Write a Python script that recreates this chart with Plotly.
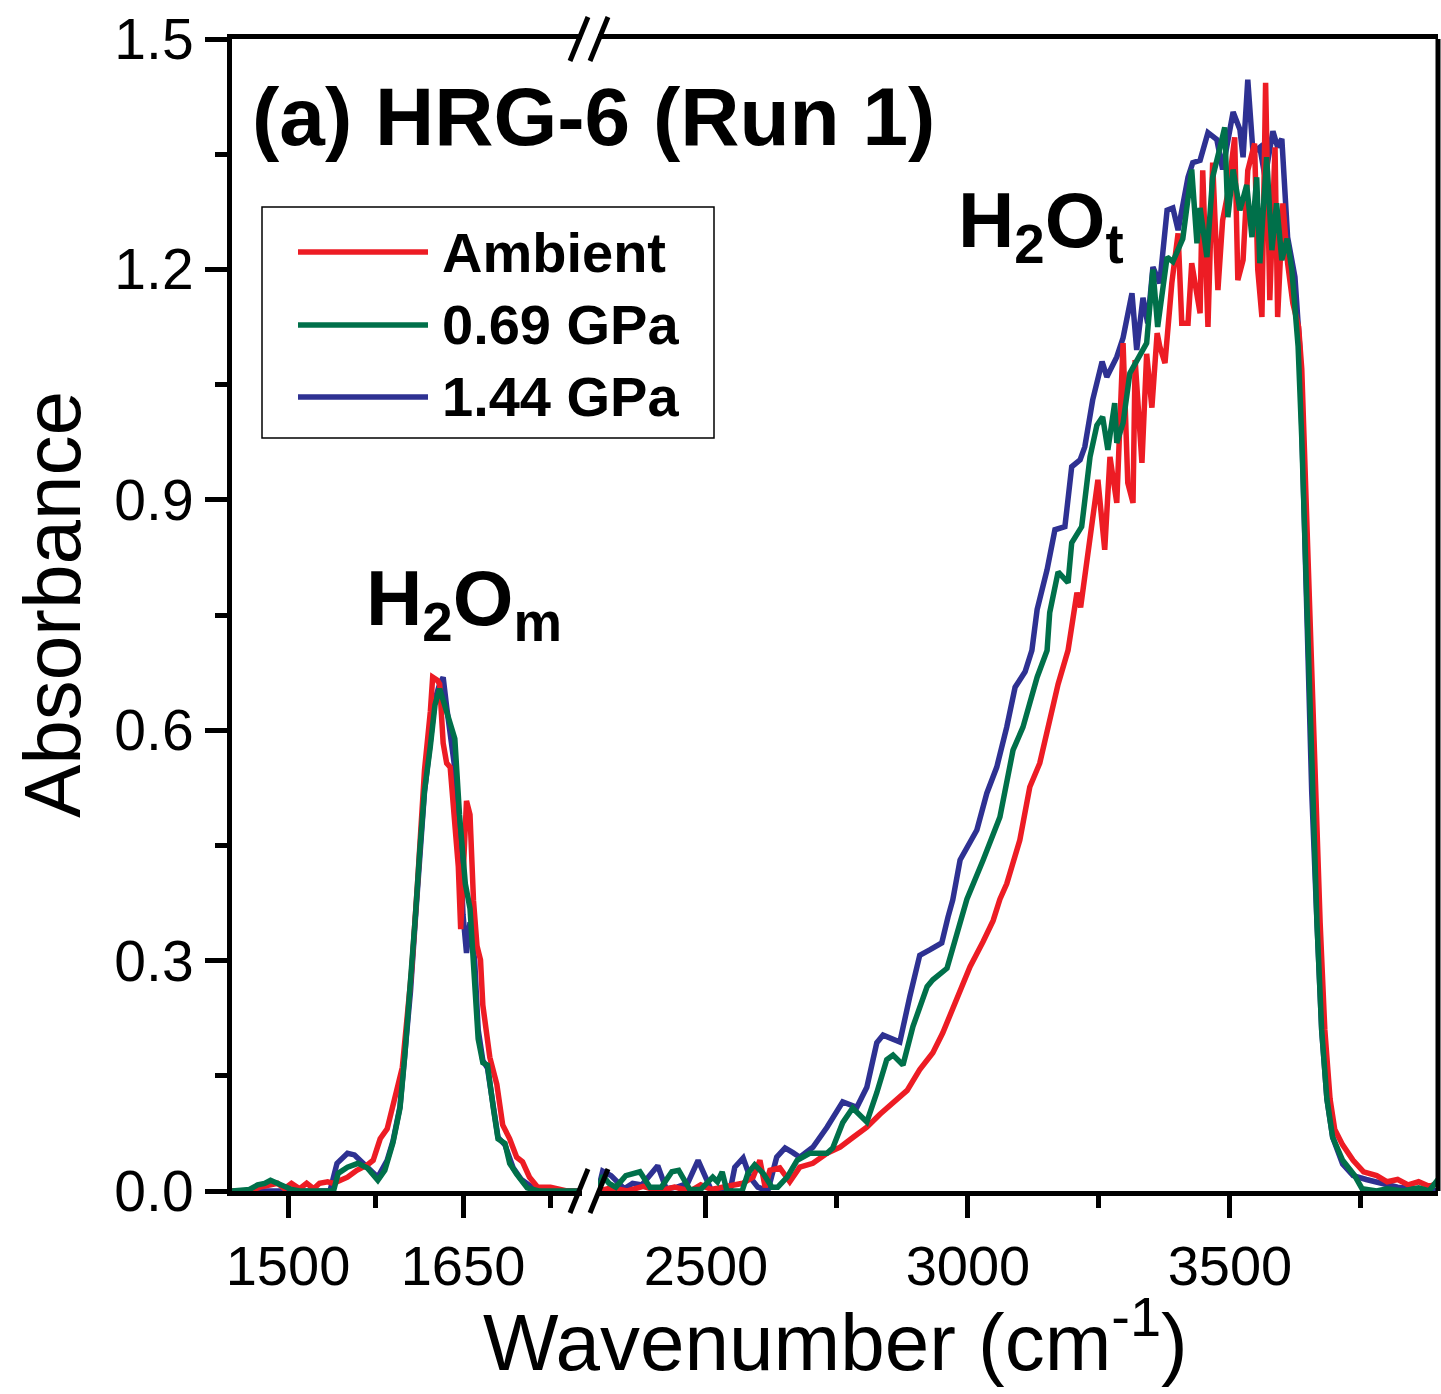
import plotly.graph_objects as go

# ---- data ----
# left window (H2O_m band)
wn_amb_l = [1452, 1467, 1476, 1485, 1491, 1497, 1503, 1510, 1516, 1522, 1527, 1534, 1539, 1545,
            1551, 1559, 1568, 1573, 1579, 1585, 1590, 1593, 1598, 1602, 1606, 1611, 1615, 1617,
            1622, 1624, 1628, 1630, 1633, 1636, 1639, 1641, 1646, 1648, 1650, 1653, 1656, 1659,
            1662, 1665, 1667, 1673, 1679, 1684, 1690, 1696, 1701, 1707, 1714, 1725, 1739, 1750]
abs_amb_l = [0.0, 0.0, 0.005, 0.008, 0.01, 0.003, 0.01, 0.003, 0.01, 0.003, 0.01, 0.012, 0.01, 0.014,
             0.018, 0.027, 0.034, 0.04, 0.068, 0.081, 0.108, 0.13, 0.161, 0.22, 0.288, 0.40, 0.49, 0.548,
             0.624, 0.669, 0.665, 0.66, 0.583, 0.557, 0.552, 0.512, 0.422, 0.341, 0.40, 0.508, 0.49, 0.378,
             0.319, 0.301, 0.242, 0.174, 0.139, 0.086, 0.068, 0.044, 0.038, 0.018, 0.005, 0.005, 0.0, 0.0]

wn_069_l = [1452, 1467, 1474, 1480, 1485, 1491, 1497, 1503, 1510, 1520, 1530, 1539, 1543, 1551,
            1560, 1568, 1577, 1583, 1590, 1596, 1600, 1605, 1609, 1613, 1617, 1622, 1626, 1630,
            1635, 1639, 1643, 1647, 1652, 1656, 1659, 1663, 1667, 1671, 1676, 1680, 1686, 1690,
            1696, 1705, 1715, 1730, 1750]
abs_069_l = [0.0, 0.002, 0.008, 0.01, 0.014, 0.01, 0.005, 0.002, 0.0, 0.0, 0.0, 0.0, 0.023, 0.031,
             0.036, 0.03, 0.014, 0.027, 0.063, 0.108, 0.174, 0.264, 0.354, 0.444, 0.521, 0.579, 0.633, 0.654,
             0.629, 0.605, 0.589, 0.49, 0.40, 0.368, 0.288, 0.198, 0.167, 0.164, 0.108, 0.068, 0.062, 0.036,
             0.022, 0.004, 0.0, 0.0, 0.0]

wn_144_l = [1452, 1480, 1510, 1536, 1542, 1551, 1557, 1568, 1577, 1585, 1590, 1596, 1600, 1605,
            1609, 1613, 1617, 1622, 1626, 1630, 1633, 1636, 1639, 1643, 1647, 1650, 1653, 1656,
            1660, 1663, 1667, 1671, 1676, 1680, 1686, 1693, 1700, 1710, 1725, 1750]
abs_144_l = [0.0, 0.0, 0.0, 0.0, 0.036, 0.049, 0.047, 0.031, 0.018, 0.04, 0.065, 0.11, 0.17, 0.26,
             0.35, 0.44, 0.52, 0.585, 0.64, 0.66, 0.669, 0.63, 0.59, 0.55, 0.47, 0.36, 0.31, 0.35,
             0.30, 0.21, 0.17, 0.16, 0.11, 0.07, 0.06, 0.03, 0.015, 0.004, 0.0, 0.0]

# right window (H2O_t band)
wn_amb_r = [2294, 2320, 2350, 2380, 2410, 2440, 2470, 2490, 2510, 2540, 2570, 2590, 2603, 2613,
            2622, 2641, 2660, 2679, 2704, 2731, 2756, 2781, 2807, 2832, 2857, 2884, 2908, 2933,
            2952, 2971, 2990, 3004, 3029, 3048, 3061, 3074, 3099, 3118, 3137, 3151, 3172, 3191,
            3200, 3208, 3215, 3223, 3236, 3248, 3261, 3271, 3284, 3296, 3305, 3315, 3319, 3332,
            3341, 3351, 3361, 3366, 3376, 3389, 3401, 3408, 3420, 3427, 3443, 3448, 3458, 3467,
            3477, 3486, 3496, 3509, 3515, 3525, 3534, 3547, 3553, 3561, 3568, 3576, 3586, 3591,
            3601, 3610, 3620, 3631, 3637, 3643, 3653, 3662, 3672, 3681, 3691, 3700, 3715, 3735,
            3755, 3780, 3800, 3820, 3840, 3860, 3880, 3897]
abs_amb_r = [0.0, 0.004, 0.0, 0.006, 0.0, 0.005, 0.0, 0.008, 0.002, 0.006, 0.01, 0.018, 0.04, 0.005,
             0.027, 0.03, 0.012, 0.031, 0.036, 0.049, 0.057, 0.07, 0.083, 0.10, 0.115, 0.131, 0.158, 0.18,
             0.206, 0.236, 0.27, 0.292, 0.325, 0.352, 0.38, 0.40, 0.457, 0.526, 0.557, 0.60, 0.66, 0.704,
             0.75, 0.779, 0.76, 0.80, 0.87, 0.926, 0.835, 0.956, 0.896, 1.104, 0.922, 0.896, 1.082, 0.948,
             1.09, 1.02, 1.117, 1.10, 1.078, 1.182, 1.247, 1.13, 1.13, 1.208, 1.143, 1.329, 1.125, 1.339,
             1.173, 1.264, 1.299, 1.372, 1.186, 1.212, 1.329, 1.364, 1.2, 1.138, 1.443, 1.16, 1.359, 1.138,
             1.286, 1.208, 1.156, 1.125, 1.07, 0.95, 0.75, 0.52, 0.35, 0.21, 0.12, 0.08, 0.06, 0.04,
             0.025, 0.02, 0.012, 0.015, 0.008, 0.012, 0.006, 0.01]

wn_069_r = [2294, 2303, 2315, 2328, 2347, 2374, 2393, 2415, 2435, 2448, 2469, 2490, 2513, 2522,
            2531, 2540, 2569, 2580, 2593, 2609, 2626, 2637, 2655, 2674, 2698, 2731, 2742, 2761,
            2780, 2807, 2826, 2845, 2857, 2876, 2895, 2922, 2933, 2960, 2979, 2998, 3029, 3061,
            3086, 3105, 3132, 3151, 3156, 3172, 3191, 3198, 3217, 3233, 3246, 3257, 3267, 3280,
            3284, 3296, 3309, 3328, 3341, 3353, 3362, 3380, 3391, 3410, 3418, 3427, 3437, 3443,
            3456, 3467, 3481, 3490, 3496, 3506, 3519, 3532, 3542, 3551, 3557, 3570, 3580, 3589,
            3599, 3609, 3618, 3624, 3630, 3637, 3647, 3656, 3666, 3675, 3685, 3696, 3715, 3738,
            3752, 3780, 3800, 3830, 3860, 3880, 3893, 3897]
abs_069_r = [0.0, 0.02, 0.01, 0.005, 0.02, 0.025, 0.005, 0.005, 0.025, 0.027, 0.002, 0.002, 0.018, 0.012,
             0.025, 0.0, 0.0, 0.023, 0.034, 0.023, 0.005, 0.005, 0.018, 0.04, 0.049, 0.049, 0.056, 0.089,
             0.108, 0.09, 0.128, 0.171, 0.177, 0.164, 0.214, 0.266, 0.275, 0.29, 0.335, 0.38, 0.431, 0.487,
             0.574, 0.604, 0.669, 0.704, 0.753, 0.806, 0.792, 0.844, 0.865, 0.956, 0.997, 1.008, 0.965, 1.026,
             0.974, 1.0, 1.065, 1.09, 1.104, 1.2, 1.125, 1.216, 1.21, 1.24, 1.277, 1.33, 1.234, 1.28,
             1.216, 1.32, 1.359, 1.385, 1.268, 1.33, 1.277, 1.31, 1.242, 1.32, 1.208, 1.346, 1.225, 1.286,
             1.212, 1.24, 1.2, 1.156, 1.1, 0.98, 0.75, 0.52, 0.35, 0.21, 0.12, 0.07, 0.04, 0.02,
             0.003, 0.0, 0.003, 0.0, 0.004, 0.0, 0.01, 0.015]

wn_144_r = [2294, 2303, 2319, 2344, 2360, 2378, 2408, 2424, 2445, 2465, 2485, 2502, 2511, 2546,
            2555, 2571, 2584, 2599, 2618, 2635, 2651, 2666, 2679, 2704, 2731, 2761, 2788, 2807,
            2826, 2838, 2855, 2870, 2889, 2908, 2927, 2950, 2962, 2971, 2985, 3017, 3036, 3055,
            3074, 3090, 3109, 3122, 3132, 3151, 3166, 3185, 3198, 3214, 3223, 3238, 3256, 3265,
            3284, 3296, 3313, 3322, 3334, 3343, 3353, 3366, 3380, 3391, 3401, 3414, 3420, 3429,
            3443, 3458, 3475, 3486, 3506, 3519, 3525, 3534, 3544, 3557, 3567, 3582, 3591, 3599,
            3605, 3610, 3624, 3633, 3638, 3647, 3656, 3666, 3675, 3685, 3696, 3715, 3735, 3760,
            3790, 3820, 3850, 3880, 3897]
abs_144_r = [0.0, 0.026, 0.02, 0.003, 0.01, 0.008, 0.033, 0.003, 0.005, 0.01, 0.04, 0.015, 0.0, 0.0,
             0.031, 0.043, 0.018, 0.005, 0.0, 0.044, 0.056, 0.05, 0.044, 0.057, 0.083, 0.116, 0.109, 0.135,
             0.193, 0.203, 0.198, 0.194, 0.253, 0.307, 0.314, 0.323, 0.357, 0.379, 0.431, 0.47, 0.518, 0.552,
             0.604, 0.656, 0.676, 0.704, 0.757, 0.809, 0.861, 0.865, 0.943, 0.952, 0.969, 1.03, 1.08, 1.06,
             1.086, 1.111, 1.169, 1.095, 1.163, 1.13, 1.203, 1.182, 1.277, 1.28, 1.251, 1.294, 1.32, 1.339,
             1.342, 1.378, 1.369, 1.33, 1.405, 1.382, 1.346, 1.447, 1.352, 1.359, 1.32, 1.38, 1.359, 1.37,
             1.286, 1.242, 1.19, 1.1, 0.97, 0.75, 0.52, 0.35, 0.21, 0.12, 0.07, 0.035, 0.02, 0.015,
             0.01, 0.005, 0.003, 0.002, 0.0]

series_names = ["Ambient", "0.69 GPa", "1.44 GPa"]
colors = {"Ambient": "#ED1C24", "0.69 GPa": "#00704A", "1.44 GPa": "#2E3192"}

FONT = "Liberation Sans, Arial, sans-serif"
LW = 5.5

fig = go.Figure()

# draw order: blue below, red, green on top
segs = [
    ("1.44 GPa", wn_144_l, abs_144_l, wn_144_r, abs_144_r),
    ("Ambient", wn_amb_l, abs_amb_l, wn_amb_r, abs_amb_r),
    ("0.69 GPa", wn_069_l, abs_069_l, wn_069_r, abs_069_r),
]
for name, xl, yl, xr, yr in segs:
    fig.add_trace(go.Scatter(x=xl, y=yl, mode="lines", xaxis="x", yaxis="y",
                             line=dict(color=colors[name], width=LW), showlegend=False))
    fig.add_trace(go.Scatter(x=xr, y=yr, mode="lines", xaxis="x2", yaxis="y",
                             line=dict(color=colors[name], width=LW), showlegend=False))

# plot area geometry (px)
L, R, T, B = 232, 1438, 39, 1191
W, H = R - L, B - T
def px(x):
    return (x - L) / W
def py(y):
    return (B - y) / H

d1 = px(582)
d2 = px(598)

axis_common = dict(showgrid=False, zeroline=False, showline=True, linewidth=5, linecolor="black",
                   mirror=True, ticks="outside", ticklen=22, tickwidth=5, tickcolor="black",
                   tickfont=dict(family=FONT, size=56, color="black"))

fig.update_layout(
    width=1441, height=1394,
    margin=dict(l=L, r=1441 - R, t=T, b=1394 - B),
    plot_bgcolor="white", paper_bgcolor="white",
    showlegend=False,
    xaxis=dict(domain=[0, d1], range=[1452, 1752], tick0=1500, dtick=150, anchor="y",
               minor=dict(tick0=1500, dtick=75, ticks="outside", ticklen=12, tickwidth=5, tickcolor="black"),
               **axis_common),
    xaxis2=dict(domain=[d2, 1], range=[2294, 3897], tick0=2500, dtick=500, anchor="y",
                minor=dict(tick0=2500, dtick=250, ticks="outside", ticklen=12, tickwidth=5, tickcolor="black"),
                **axis_common),
    yaxis=dict(range=[0, 1.5], tick0=0, dtick=0.3, tickformat=".1f", anchor="x",
               showgrid=False, zeroline=False, showline=True, linewidth=5, linecolor="black",
               ticks="outside", ticklen=22, tickwidth=5, tickcolor="black",
               tickfont=dict(family=FONT, size=57, color="black"),
               minor=dict(tick0=0, dtick=0.15, ticks="outside", ticklen=12, tickwidth=5, tickcolor="black")),
)

shapes = []
# right frame line
shapes.append(dict(type="line", xref="paper", yref="paper", x0=1, x1=1, y0=0, y1=1,
                   line=dict(color="black", width=5)))
# axis-break slashes, top and bottom
for yc in (B, T):
    for xc in (579, 599):
        shapes.append(dict(type="line", xref="paper", yref="paper",
                           x0=px(xc - 9), y0=py(yc + 22), x1=px(xc + 9), y1=py(yc - 22),
                           line=dict(color="black", width=5)))
# legend box and samples
shapes.append(dict(type="rect", xref="paper", yref="paper", x0=px(262), x1=px(714), y0=py(438), y1=py(207),
                   line=dict(color="black", width=1.5), fillcolor="rgba(0,0,0,0)"))
legend_y = [252, 325, 397]
for name, ly in zip(series_names, legend_y):
    shapes.append(dict(type="line", xref="paper", yref="paper", x0=px(298), x1=px(428), y0=py(ly), y1=py(ly),
                       line=dict(color=colors[name], width=LW)))
fig.update_layout(shapes=shapes)

ann = []
for name, ly in zip(series_names, legend_y):
    ann.append(dict(text="<b>%s</b>" % name, xref="paper", yref="paper", x=px(440), y=py(ly),
                    xanchor="left", yanchor="middle", showarrow=False,
                    font=dict(family=FONT, size=56, color="black")))
ann.append(dict(text="<b>(a) HRG-6 (Run 1)</b>", xref="paper", yref="paper", x=px(250), y=py(116),
                xanchor="left", yanchor="middle", showarrow=False,
                font=dict(family=FONT, size=82, color="black")))
ann.append(dict(text="<b>H<sub>2</sub>O<sub>m</sub></b>", xref="paper", yref="paper", x=px(364), y=py(603),
                xanchor="left", yanchor="middle", showarrow=False,
                font=dict(family=FONT, size=78, color="black")))
ann.append(dict(text="<b>H<sub>2</sub>O<sub>t</sub></b>", xref="paper", yref="paper", x=px(956), y=py(226),
                xanchor="left", yanchor="middle", showarrow=False,
                font=dict(family=FONT, size=78, color="black")))
ann.append(dict(text="Wavenumber (cm<sup>-1</sup>)", xref="paper", yref="paper", x=px(835), y=py(1336),
                xanchor="center", yanchor="middle", showarrow=False,
                font=dict(family=FONT, size=80, color="black")))
ann.append(dict(text="Absorbance", xref="paper", yref="paper", x=px(52), y=py(605), textangle=-90,
                xanchor="center", yanchor="middle", showarrow=False,
                font=dict(family=FONT, size=80, color="black")))
fig.update_layout(annotations=ann)

fig.write_html("out.html", config={"displayModeBar": False},
               post_script="document.body.style.margin='0';document.body.style.overflow='hidden';")
